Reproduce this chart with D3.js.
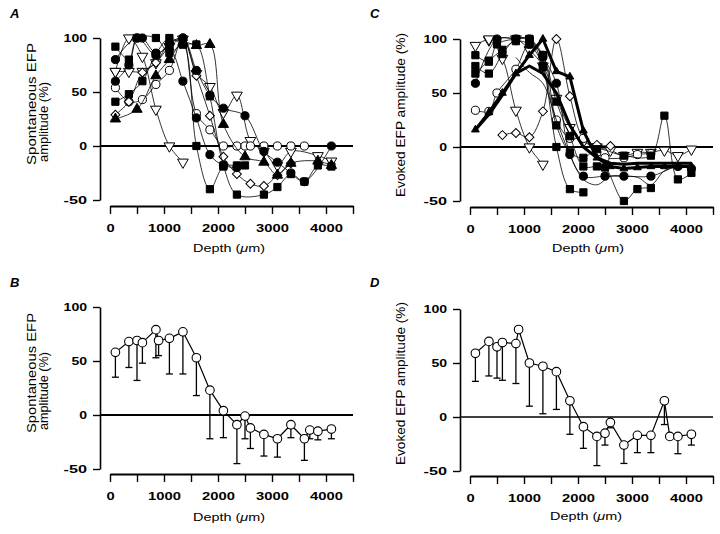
<!DOCTYPE html>
<html><head><meta charset="utf-8">
<script src="https://cdn.jsdelivr.net/npm/d3@7"></script>
<style>body{margin:0;background:#fff}svg{display:block}</style>
</head><body><svg id="c" width="720" height="534"></svg>
<script>
// ---------- DATA ----------
const depthTickValues = [0,500,1000,1500,2000,2500,3000,3500,4000,4500];
const depthLabels = [0,1000,2000,3000,4000];
const ampTicks = [100,50,0,-50];

// Panel A (spontaneous, individual experiments) [depth, %]
const aSquare1 = [[100,92],[350,80],[500,100],[850,100],[1100,86],[1350,94],[1600,0],[1850,-40],[2100,-19],[2350,-18],[2500,-18]];
const aSquare2 = [[100,41],[350,48],[600,60],[850,85],[1100,100],[1350,94],[1600,94],[1850,46],[2100,-18],[2350,-45],[2850,-45],[3100,-38],[3350,-26],[3600,-33],[3850,-18],[4100,-19]];
const aCircle1 = [[100,60],[350,75],[500,100],[600,100],[850,86],[1100,90],[1350,60],[1600,26],[1850,-8],[2100,-18],[2350,-20]];
const aCircle2 = [[100,80],[500,100],[850,84],[1100,95],[1350,100],[1600,70],[1850,47],[2100,35],[2500,28],[2850,-5],[3100,-15],[3350,-25],[3600,-33],[4100,0]];
const aOpenCircle = [[100,54],[350,41],[600,43],[850,57],[1100,70],[1350,100],[1600,30],[1850,15],[2100,0],[2350,0],[2500,0],[2600,0],[2850,0],[3100,0],[3350,0],[3600,0]];
const aDiamond = [[100,29],[350,41],[600,68],[850,77],[1100,95],[1350,98],[1600,65],[1850,28],[2100,-10],[2350,-26],[2600,-35],[2850,-37],[3100,-27],[3350,-16]];
const aTriFilled = [[100,25],[500,34],[850,65],[1100,80],[1350,96],[1600,93],[1850,94],[2100,20],[2500,-10],[2850,-15],[3100,-27],[3350,-16],[3850,-14],[4100,-18]];
const aTriOpen1 = [[100,69],[350,100],[600,83],[850,34],[1100,0],[1350,-15]];
const aTriOpen2 = [[100,69],[350,69],[600,69],[850,77],[1100,92],[1350,99],[1600,67],[1850,55],[2100,31],[2350,47],[2600,5],[2850,-5],[3100,-18],[3350,-5],[3850,-9],[4100,-14]];

// Panel C (evoked, individual experiments)
const cThick1 = [[100,16],[350,32],[600,50],[850,68],[1100,85],[1350,100],[1600,70],[1850,65],[2100,15],[2350,-10],[2600,-18],[2850,-20],[3100,-19],[3350,-18],[3600,-18],[3850,-18],[4100,-18]];
const cThick2 = [[100,16],[350,30],[600,48],[850,68],[1100,75],[1350,68],[1600,50],[1850,20],[2100,0],[2350,-10],[2600,-15],[2850,-16],[3100,-15],[3350,-15],[3600,-15],[4100,-15]];
const cTriOpen1 = [[100,94],[350,99],[600,82],[850,34],[1100,0],[1350,-16]];
const cTriOpen2 = [[350,100],[850,100],[1100,90],[1350,75],[1600,45],[1850,18],[2100,5],[2350,0],[2600,-3],[2850,-8],[3100,-5],[3350,-5],[3600,-3],[3850,-8],[4100,-2]];
const cDiamond = [[600,11],[850,13],[1100,9],[1350,33],[1600,100],[1850,47],[2100,8],[2350,2],[2600,1]];
const cOpenCircle = [[100,34],[350,33],[500,50],[850,72],[1100,95],[1350,85],[1600,25],[1850,8],[2100,8],[2350,-5],[2500,-10],[2850,-10],[3100,-7],[3350,-6]];
const cSquare1 = [[100,85],[350,79],[500,95],[850,100],[1100,100],[1350,74],[1600,0],[1850,-39],[2100,-42]];
const cSquare2 = [[100,75],[350,68],[600,86],[850,100],[1100,100],[1350,85],[1600,42],[1850,10],[2100,-18],[2350,-18],[2500,-19],[2850,-50],[3100,-39],[3350,-38]];
const cSquare3 = [[100,68],[350,80],[600,90],[850,98],[1100,95],[1350,75],[1600,20],[1850,-5],[2100,-10],[2350,-2],[2850,-8],[3350,-8],[3600,29],[3850,-30],[4100,-24]];
const cCircle1 = [[100,59],[500,100],[850,100],[1100,100],[1350,83],[1600,59],[1850,-7],[2100,-27],[2500,-27],[2850,-27],[3350,-27],[3850,-18],[4100,-20]];
const cCircle2 = [[850,83],[1100,69],[1350,59],[1600,25],[1850,-7],[2100,-30],[2350,-35],[2600,-27],[2850,-27],[3100,-28],[3350,-35],[3600,-22],[3850,-18]];

// Panels B and D (means with lower error bars)
const meanDepth = [100,350,500,600,850,900,1100,1350,1600,1850,2100,2350,2500,2600,2850,3100,3350,3600,3700,3850,4100];
const bMean  = [58,68,69,67,79,69,71,77,53,23,4,-9,-1,-12,-18,-22,-9,-22,-14,-15,-13];
const bLower = [35,44,32,48,53,55,38,38,18,-22,-21,-45,-22,-31,-38,-39,-21,-42,-22,-23,-22];
const dMean  = [59,70,65,69,68,81,50,47,42,15,-9,-18,-15,-5,-26,-17,-17,15,-18,-18,-16];
const dLower = [33,38,36,34,31,81,10,3,7,-16,-29,-45,-26,-10,-43,-33,-33,-7,-18,-34,-26];

// ---------- DRAWING ----------
const FONT = "'Liberation Sans', Arial, Helvetica, sans-serif";
const svg = d3.select("#c");

const layout = {
  A:{xr:[110,353], yr:[200,38], yAxisX:100, xAxisY:206, zeroW:2},
  B:{xr:[110,353], yr:[469,307], yAxisX:100, xAxisY:474, zeroW:2},
  C:{xr:[470,713], yr:[201,39], yAxisX:460, xAxisY:207, zeroW:2},
  D:{xr:[470,713], yr:[471,309], yAxisX:460, xAxisY:476, zeroW:1.5}
};

function frame(p) {
  const x = d3.scaleLinear().domain([0,4500]).range(p.xr);
  const y = d3.scaleLinear().domain([-50,100]).range(p.yr);
  const g = svg.append("g");
  const gy = g.append("g").attr("transform",`translate(${p.yAxisX},0)`)
    .call(d3.axisLeft(y).tickValues(ampTicks).tickSize(7).tickSizeOuter(0).tickPadding(6).tickFormat(d => String(d)));
  gy.attr("font-family", FONT).attr("font-size", 10).attr("font-weight","bold");
  gy.select(".domain").attr("stroke-width",1.6);
  gy.selectAll(".tick line").attr("stroke-width",1.4);
  gy.selectAll("text").attr("textLength", d => String(d).length*7.8).attr("lengthAdjust","spacingAndGlyphs");
  const gx = g.append("g").attr("transform",`translate(0,${p.xAxisY})`)
    .call(d3.axisBottom(x).tickValues(depthTickValues).tickSize(8).tickSizeOuter(0).tickPadding(10)
      .tickFormat(d => depthLabels.includes(d) ? String(d) : ""));
  gx.attr("font-family", FONT).attr("font-size", 11.5).attr("font-weight","bold");
  gx.select(".domain").attr("stroke-width",2);
  gx.selectAll(".tick line").attr("stroke-width",1.4);
  gx.selectAll("text").filter(d => depthLabels.includes(d))
    .attr("textLength", d => String(d).length*8.2).attr("lengthAdjust","spacingAndGlyphs");
  g.append("line").attr("x1",p.yAxisX).attr("x2",x(4500)).attr("y1",y(0)).attr("y2",y(0))
    .attr("stroke","#000").attr("stroke-width",p.zeroW);
  return {g,x,y};
}

const sym = {
  circleF:{type:d3.symbolCircle,size:52,fill:"#000",rot:0},
  circleO:{type:d3.symbolCircle,size:52,fill:"#fff",rot:0},
  squareF:{type:d3.symbolSquare,size:52,fill:"#000",rot:0},
  diamondO:{type:d3.symbolSquare,size:40,fill:"#fff",rot:45},
  triF:{type:d3.symbolTriangle,size:46,fill:"#000",rot:0},
  triFsmall:{type:d3.symbolTriangle,size:26,fill:"#000",rot:0},
  triO:{type:d3.symbolTriangle,size:50,fill:"#fff",rot:180}
};

function series(P, data, marker, opts={}) {
  const line = d3.line().x(d=>P.x(d[0])).y(d=>P.y(d[1])).curve(opts.linear ? d3.curveLinear : d3.curveCatmullRom.alpha(0.5));
  P.g.append("path").datum(data).attr("d", line).attr("fill","none")
    .attr("stroke","#000").attr("stroke-width", opts.w || 0.8).attr("stroke-linejoin","round");
  if (marker) {
    const s = sym[marker];
    P.g.append("g").selectAll("path").data(data).join("path")
      .attr("d", d3.symbol().type(s.type).size(s.size))
      .attr("transform", d => `translate(${P.x(d[0])},${P.y(d[1])}) rotate(${s.rot})`)
      .attr("fill", s.fill).attr("stroke","#000").attr("stroke-width",1);
  }
}

const PA = frame(layout.A);
[[aTriOpen1,"triO"],[aTriOpen2,"triO"],[aOpenCircle,"circleO"],[aDiamond,"diamondO"],
 [aTriFilled,"triF"],[aCircle2,"circleF"],[aCircle1,"circleF"],[aSquare2,"squareF"],[aSquare1,"squareF"]]
 .forEach(([d,m]) => series(PA,d,m));

const PC = frame(layout.C);
[[cTriOpen1,"triO"],[cTriOpen2,"triO"],[cDiamond,"diamondO"],[cOpenCircle,"circleO"],
 [cCircle2,null],[cCircle1,"circleF"],[cSquare3,"squareF"],[cSquare2,"squareF"],[cSquare1,"squareF"]]
 .forEach(([d,m]) => series(PC,d,m));
series(PC,cThick2,null,{w:3,linear:true});
series(PC,cThick1,"triFsmall",{w:3,linear:true});

function meanPanel(P, mean, lower) {
  const pts = meanDepth.map((d,i)=>[d,mean[i],lower[i]]);
  const eb = P.g.append("g").attr("stroke","#000").attr("stroke-width",1.3);
  pts.filter(p=>p[2] < p[1]).forEach(p => {
    eb.append("line").attr("x1",P.x(p[0])).attr("x2",P.x(p[0])).attr("y1",P.y(p[1])).attr("y2",P.y(p[2]));
    eb.append("line").attr("x1",P.x(p[0])-3.5).attr("x2",P.x(p[0])+3.5).attr("y1",P.y(p[2])).attr("y2",P.y(p[2]));
  });
  P.g.append("path").datum(pts).attr("d", d3.line().x(d=>P.x(d[0])).y(d=>P.y(d[1])))
    .attr("fill","none").attr("stroke","#000").attr("stroke-width",1.2);
  P.g.append("g").selectAll("circle").data(pts).join("circle")
    .attr("cx",d=>P.x(d[0])).attr("cy",d=>P.y(d[1])).attr("r",4.3)
    .attr("fill","#fff").attr("stroke","#000").attr("stroke-width",1.1);
}
const PB = frame(layout.B); meanPanel(PB, bMean, bLower);
const PD = frame(layout.D); meanPanel(PD, dMean, dLower);

// ---------- TEXT ----------
function txt(x,y,opt={}) {
  const t = svg.append("text").attr("x",x).attr("y",y).attr("font-family",FONT)
    .attr("font-size",opt.size||11).attr("fill","#000");
  if (opt.bold) t.attr("font-weight","bold");
  if (opt.italic) t.attr("font-style","italic");
  if (opt.anchor) t.attr("text-anchor",opt.anchor);
  if (opt.rot) t.attr("transform",`rotate(-90,${x},${y})`);
  if (opt.len) t.attr("textLength",opt.len).attr("lengthAdjust","spacingAndGlyphs");
  return t;
}
function depthTitle(cx,y) {
  const t = txt(cx,y,{anchor:"middle",size:11.5,len:72});
  t.append("tspan").text("Depth (");
  t.append("tspan").attr("font-style","italic").text("\u03bc");
  t.append("tspan").text("m)");
}
depthTitle(229,252); depthTitle(588,252); depthTitle(229,521); depthTitle(586,520);

txt(35.5,165,{rot:true,size:12.5,len:122}).text("Spontaneous EFP");
txt(47.5,162,{rot:true,size:12.5,len:80}).text("amplitude (%)");
txt(35.5,433,{rot:true,size:12.5,len:120}).text("Spontaneous EFP");
txt(47.5,430,{rot:true,size:12.5,len:78}).text("amplitude (%)");
txt(404.5,197,{rot:true,size:13,len:164}).text("Evoked EFP amplitude (%)");
txt(404.5,465,{rot:true,size:13,len:163}).text("Evoked EFP amplitude (%)");

txt(10,18.3,{bold:true,italic:true,size:13}).text("A");
txt(10,287.3,{bold:true,italic:true,size:13}).text("B");
txt(370,18.3,{bold:true,italic:true,size:13}).text("C");
txt(370,287.3,{bold:true,italic:true,size:13}).text("D");
</script></body></html>
